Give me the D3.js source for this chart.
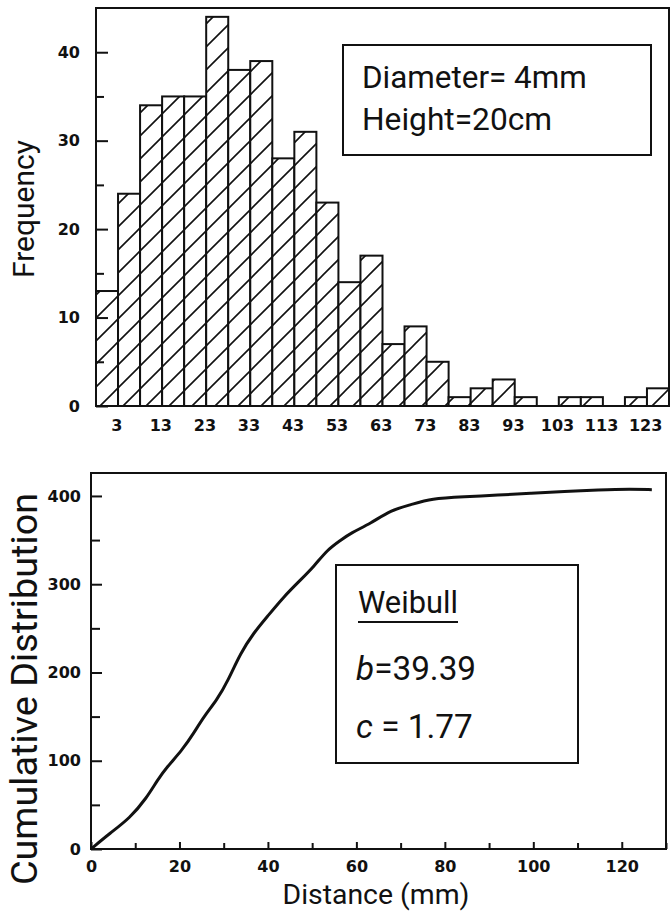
<!DOCTYPE html>
<html lang="en">
<head>
    <meta charset="UTF-8">
    <title>Frequency and Cumulative Distribution</title>
    <script src="https://d3js.org/d3.v7.min.js"></script>
    <style>
        body {
            margin: 0;
            padding: 0;
            background: #fff;
        }
        .tick text {
            font-family: "DejaVu Sans", sans-serif;
            font-weight: bold;
            font-size: 16px;
            fill: #111;
        }
        .tick line {
            stroke: #111;
            stroke-width: 2;
        }
        .title {
            font-family: Roboto, sans-serif;
            fill: #111;
        }
    </style>
</head>
<body>
    <div id="chart"></div>
    <script>
        const width = 670;
        const height = 915;

        // Histogram: counts per 5 mm bin, starting at 0 mm
        const binWidth = 5;
        const freqCounts = [13, 24, 34, 35, 35, 44, 38, 39, 28, 31, 23, 14, 17,
                            7, 9, 5, 1, 2, 3, 1, 0, 1, 1, 0, 1, 2];
        const freqTickLabels = [3, 13, 23, 33, 43, 53, 63, 73, 83, 93, 103, 113, 123];
        const freqYTicks = [0, 10, 20, 30, 40];
        const freqYMinor = [5, 15, 25, 35];

        // Cumulative distribution curve
        const cumX = [0, 4.3, 8.8, 12.6, 15, 17.2, 20.6, 23.2, 25.5, 28.5, 31, 33.8, 36.8,
                      39.8, 43.6, 47.4, 50.4, 53.4, 56.5, 58.7, 63.3, 67.8, 72.3, 76.9,
                      84.4, 92, 99.5, 107, 114.7, 122.2, 126.8];
        const cumY = [0, 18, 35, 58, 78, 93, 112, 131, 150, 169, 191, 222, 245,
                      263, 286, 305, 320, 339, 350, 358, 369, 384, 390, 397,
                      399, 401, 403, 405, 407, 408, 407];
        const cumXTicks = [0, 20, 40, 60, 80, 100, 120];
        const cumXMinor = [10, 30, 50, 70, 90, 110, 130];
        const cumYTicks = [0, 100, 200, 300, 400];
        const cumYMinor = [50, 150, 250, 350];

        const svg = d3.select("#chart")
            .append("svg")
            .attr("width", width)
            .attr("height", height);

        // size a text so its length matches the lettering in the original figure
        function fitText(sel, targetWidth) {
            sel.attr("font-size", 100);
            const w = sel.node().getComputedTextLength();
            const size = +(100 * targetWidth / w).toFixed(1);
            sel.attr("font-size", size);
            return size;
        }

        // hatch pattern for the bars
        const defs = svg.append("defs");
        const hatch = defs.append("pattern")
            .attr("id", "hatch")
            .attr("patternUnits", "userSpaceOnUse")
            .attr("width", 23)
            .attr("height", 23);
        hatch.append("rect").attr("width", 23).attr("height", 23).attr("fill", "#fff");
        hatch.append("path")
            .attr("d", "M-2,25 L25,-2 M-4,4 L4,-4 M19,27 L27,19")
            .attr("stroke", "#111")
            .attr("stroke-width", 1.6);

        // ---------- Top panel: histogram ----------
        const histBox = {left: 96, right: 669, top: 8, bottom: 406};

        const xHist = d3.scaleLinear()
            .domain([0, freqCounts.length * binWidth])
            .range([histBox.left, histBox.right]);
        const yHist = d3.scaleLinear()
            .domain([0, 45])
            .range([histBox.bottom, histBox.top]);

        svg.append("g")
            .selectAll("rect")
            .data(freqCounts.map((c, i) => ({c, i})).filter(d => d.c > 0))
            .enter()
            .append("rect")
            .attr("x", d => xHist(d.i * binWidth))
            .attr("y", d => yHist(d.c))
            .attr("width", d => xHist((d.i + 1) * binWidth) - xHist(d.i * binWidth))
            .attr("height", d => yHist(0) - yHist(d.c))
            .attr("fill", "url(#hatch)")
            .attr("stroke", "#111")
            .attr("stroke-width", 2);

        // frame
        svg.append("rect")
            .attr("x", histBox.left)
            .attr("y", histBox.top)
            .attr("width", histBox.right - histBox.left)
            .attr("height", histBox.bottom - histBox.top)
            .attr("fill", "none")
            .attr("stroke", "#111")
            .attr("stroke-width", 2);

        const yHistAxis = svg.append("g")
            .attr("transform", `translate(${histBox.left},0)`)
            .call(d3.axisLeft(yHist).tickValues(freqYTicks).tickSize(-12).tickPadding(16));
        yHistAxis.select(".domain").remove();

        const yHistMinor = svg.append("g")
            .attr("transform", `translate(${histBox.left},0)`)
            .call(d3.axisLeft(yHist).tickValues(freqYMinor).tickSize(-8).tickFormat(""));
        yHistMinor.select(".domain").remove();

        const xHistAxis = svg.append("g")
            .attr("transform", `translate(0,${histBox.bottom})`)
            .call(d3.axisBottom(xHist).tickValues(freqTickLabels).tickSize(0).tickPadding(14));
        xHistAxis.select(".domain").remove();
        xHistAxis.selectAll("text").attr("dx", 7);

        fitText(svg.append("text")
            .attr("class", "title")
            .attr("transform", "translate(34,209) rotate(-90)")
            .attr("text-anchor", "middle")
            .text("Frequency"), 138);

        // legend box (top)
        svg.append("rect")
            .attr("x", 343).attr("y", 45)
            .attr("width", 308).attr("height", 110)
            .attr("fill", "#fff")
            .attr("stroke", "#111")
            .attr("stroke-width", 2);
        fitText(svg.append("text")
            .attr("class", "title")
            .attr("x", 362).attr("y", 88)
            .text("Diameter= 4mm"), 225);
        fitText(svg.append("text")
            .attr("class", "title")
            .attr("x", 362).attr("y", 130)
            .text("Height=20cm"), 190);

        // ---------- Bottom panel: cumulative distribution ----------
        const cumBox = {left: 91, right: 666, top: 473, bottom: 849};

        const xCum = d3.scaleLinear()
            .domain([0, 130])
            .range([cumBox.left, cumBox.right]);
        const yCum = d3.scaleLinear()
            .domain([0, 426])
            .range([cumBox.bottom, cumBox.top]);

        svg.append("rect")
            .attr("x", cumBox.left)
            .attr("y", cumBox.top)
            .attr("width", cumBox.right - cumBox.left)
            .attr("height", cumBox.bottom - cumBox.top)
            .attr("fill", "none")
            .attr("stroke", "#111")
            .attr("stroke-width", 2);

        const yCumAxis = svg.append("g")
            .attr("transform", `translate(${cumBox.left},0)`)
            .call(d3.axisLeft(yCum).tickValues(cumYTicks).tickSize(-11).tickPadding(10));
        yCumAxis.select(".domain").remove();

        const yCumMinor = svg.append("g")
            .attr("transform", `translate(${cumBox.left},0)`)
            .call(d3.axisLeft(yCum).tickValues(cumYMinor).tickSize(-9).tickFormat(""));
        yCumMinor.select(".domain").remove();

        const xCumAxis = svg.append("g")
            .attr("transform", `translate(0,${cumBox.bottom})`)
            .call(d3.axisBottom(xCum).tickValues(cumXTicks).tickSize(-7).tickPadding(12));
        xCumAxis.select(".domain").remove();

        const xCumMinor = svg.append("g")
            .attr("transform", `translate(0,${cumBox.bottom})`)
            .call(d3.axisBottom(xCum).tickValues(cumXMinor).tickSize(-6).tickFormat(""));
        xCumMinor.select(".domain").remove();

        const line = d3.line()
            .x((d, i) => xCum(cumX[i]))
            .y(d => yCum(d))
            .curve(d3.curveBasis);

        svg.append("path")
            .datum(cumY)
            .attr("d", line)
            .attr("fill", "none")
            .attr("stroke", "#111")
            .attr("stroke-width", 3);

        fitText(svg.append("text")
            .attr("class", "title")
            .attr("transform", "translate(37,689) rotate(-90)")
            .attr("text-anchor", "middle")
            .text("Cumulative Distribution"), 392);

        fitText(svg.append("text")
            .attr("class", "title")
            .attr("x", 376).attr("y", 904)
            .attr("text-anchor", "middle")
            .text("Distance (mm)"), 187);

        // legend box (bottom)
        svg.append("rect")
            .attr("x", 336).attr("y", 565)
            .attr("width", 242).attr("height", 198)
            .attr("fill", "#fff")
            .attr("stroke", "#111")
            .attr("stroke-width", 2);
        fitText(svg.append("text")
            .attr("class", "title")
            .attr("x", 358).attr("y", 613)
            .text("Weibull"), 100);
        svg.append("line")
            .attr("x1", 358).attr("x2", 458)
            .attr("y1", 622).attr("y2", 622)
            .attr("stroke", "#111")
            .attr("stroke-width", 2);

        const bText = svg.append("text")
            .attr("class", "title")
            .attr("x", 356).attr("y", 680);
        bText.append("tspan").attr("font-style", "italic").text("b");
        bText.append("tspan").text("=39.39");
        const paramSize = fitText(bText, 120);

        const cText = svg.append("text")
            .attr("class", "title")
            .attr("x", 356).attr("y", 738)
            .attr("font-size", paramSize);
        cText.append("tspan").attr("font-style", "italic").text("c");
        cText.append("tspan").text(" = 1.77");
    </script>
</body>
</html>
